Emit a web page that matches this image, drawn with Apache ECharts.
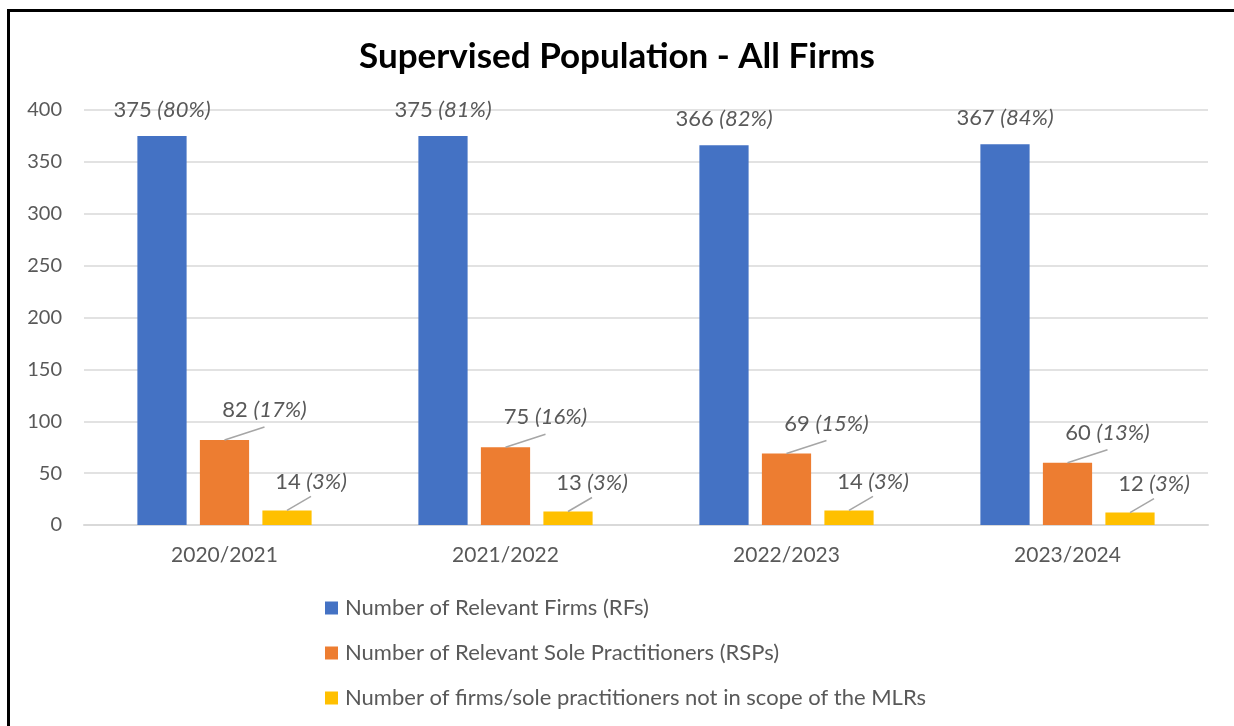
<!DOCTYPE html>
<html>
<head>
<meta charset="utf-8">
<script src="https://cdn.jsdelivr.net/npm/echarts@6/dist/echarts.min.js"></script>
<style>
html,body{margin:0;padding:0;background:#fff;overflow:hidden;width:1234px;height:726px;}
#wrap{position:relative;width:1234px;height:726px;overflow:hidden;}
#chart{position:absolute;left:0;top:0;width:1234px;height:726px;}
#frame{position:absolute;left:7px;top:9px;width:3000px;height:3000px;border-left:3px solid #000;border-top:3px solid #000;pointer-events:none;}
</style>
</head>
<body>
<div id="wrap"><div id="chart"></div><div id="frame"></div></div>
<script>
const categories = ['2020/2021', '2021/2022', '2022/2023', '2023/2024'];
const seriesNames = [
  'Number of Relevant Firms (RFs)',
  'Number of Relevant Sole Practitioners (RSPs)',
  'Number of firms/sole practitioners not in scope of the MLRs'
];
const firms = [375, 375, 366, 367];
const firmsPct = [80, 81, 82, 84];
const solePractitioners = [82, 75, 69, 60];
const solePct = [17, 16, 15, 13];
const notInScope = [14, 13, 14, 12];
const notInScopePct = [3, 3, 3, 3];
const yTicks = [0, 50, 100, 150, 200, 250, 300, 350, 400];

const FONT = 'Lato';
const TXT = '#595959';
const BAR_CAT_GAP = 0.38;
const BAR_GAP = 0.27;

// leader lines: [seriesIndex, dx, dy] from bar top centre
const leaderStyle = {1: [40, -13], 2: [24, -14]};
const leaderData = [];
[solePractitioners, notInScope].forEach((arr, k) => {
  arr.forEach((v, i) => leaderData.push([i, k + 1, v]));
});

function mkLabel(pcts, dx, dy) {
  return {
    label: {
      show: true,
      position: 'top',
      fontFamily: FONT,
      formatter: p => '{n|' + p.value + ' }{p|(' + pcts[p.dataIndex] + '%)}',
      rich: {
        n: {fontFamily: FONT, fontSize: 22, color: TXT},
        p: {fontFamily: FONT, fontSize: 22, color: TXT, fontStyle: 'italic'}
      }
    },
    labelLayout: {dx: dx, dy: dy}
  };
}

const chart = echarts.init(document.getElementById('chart'), null, {renderer: 'canvas'});
const option = {
  backgroundColor: '#fff',
  animation: false,
  title: {
    text: 'Supervised Population - All Firms',
    left: 'center',
    top: 34,
    textStyle: {fontFamily: FONT, fontWeight: 'bold', fontSize: 35, color: '#000'}
  },
  legend: {
    orient: 'vertical',
    left: 320,
    top: 592,
    itemGap: 23,
    itemWidth: 13,
    itemHeight: 13,
    icon: 'rect',
    textStyle: {fontFamily: FONT, fontSize: 22, color: TXT, padding: [0, 0, 0, 2]},
    data: seriesNames
  },
  grid: {left: 84, right: 26, top: 110, bottom: 201, containLabel: false},
  xAxis: {
    type: 'category',
    data: categories,
    axisLine: {lineStyle: {color: '#d9d9d9', width: 2}},
    axisTick: {show: false},
    axisLabel: {fontFamily: FONT, fontSize: 21, color: TXT, margin: 20}
  },
  yAxis: {
    type: 'value',
    min: yTicks[0],
    max: yTicks[yTicks.length - 1],
    interval: 50,
    axisLine: {show: false},
    axisTick: {show: false},
    splitLine: {lineStyle: {color: '#d9d9d9', width: 1.5}},
    axisLabel: {fontFamily: FONT, fontSize: 20, color: TXT, margin: 22}
  },
  series: [
    Object.assign({
      name: seriesNames[0], type: 'bar', data: firms,
      itemStyle: {color: '#4472c4'},
      barGap: (BAR_GAP * 100) + '%', barCategoryGap: (BAR_CAT_GAP * 100) + '%'
    }, mkLabel(firmsPct, 0, -10)),
    Object.assign({
      name: seriesNames[1], type: 'bar', data: solePractitioners,
      itemStyle: {color: '#ed7d31'}
    }, mkLabel(solePct, 40, -14)),
    Object.assign({
      name: seriesNames[2], type: 'bar', data: notInScope,
      itemStyle: {color: '#ffc000'}
    }, mkLabel(notInScopePct, 24, -13)),
    {
      name: 'leaders',
      type: 'custom',
      silent: true,
      z: 5,
      data: leaderData,
      encode: {x: 0, y: 2},
      renderItem: function (params, api) {
        const ci = api.value(0), si = api.value(1), v = api.value(2);
        const top = api.coord([ci, v]);
        const W = api.size([1, 0])[0];
        const used = W * (1 - BAR_CAT_GAP);
        const bw = used / (3 + 2 * BAR_GAP);
        const cx = top[0] - used / 2 + bw / 2 + si * bw * (1 + BAR_GAP);
        const d = leaderStyle[si];
        return {
          type: 'line',
          shape: {x1: cx, y1: top[1], x2: cx + d[0], y2: top[1] + d[1]},
          style: {stroke: '#a6a6a6', lineWidth: 1.5}
        };
      }
    }
  ]
};
chart.setOption(option);
</script>
</body>
</html>
